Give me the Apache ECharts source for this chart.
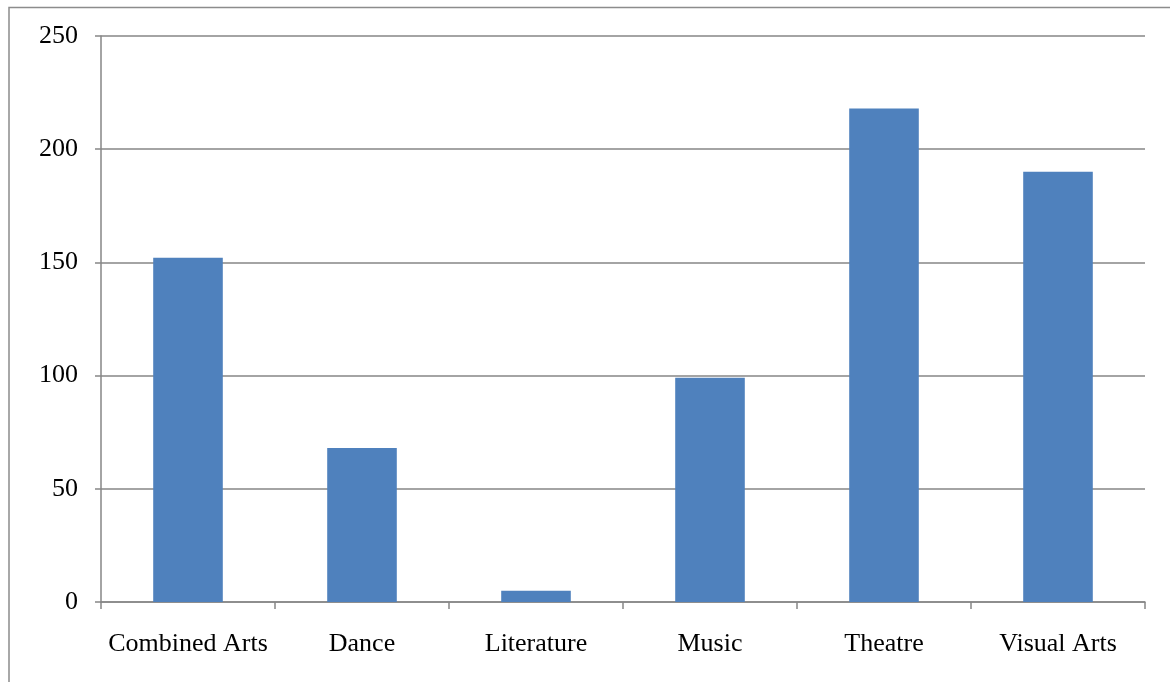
<!DOCTYPE html>
<html>
<head>
<meta charset="utf-8">
<script src="https://cdn.jsdelivr.net/npm/echarts@6/dist/echarts.min.js"></script>
<style>
  html, body { margin: 0; padding: 0; background: #fff; }
  #chart { width: 1170px; height: 682px; }
</style>
</head>
<body>
<div id="chart"></div>
<script>
// Funded projects by art form
const categories = ['Combined Arts', 'Dance', 'Literature', 'Music', 'Theatre', 'Visual Arts'];
const values = [152, 68, 5, 99, 218, 190];
const yTicks = { min: 0, max: 250, interval: 50 };

const axisGray = '#868686';
const font = '"Liberation Serif", "Times New Roman", serif';

const chart = echarts.init(document.getElementById('chart'));
chart.setOption({
  animation: false,
  graphic: [{
    type: 'rect',
    shape: { x: 9, y: 7.5, width: 1200, height: 700 },
    style: { fill: 'none', stroke: '#8c8c8c', lineWidth: 1.5 },
    silent: true
  }],
  grid: { left: 101, right: 25, top: 36, bottom: 80 },
  xAxis: {
    type: 'category',
    data: categories,
    axisLine: { lineStyle: { color: axisGray, width: 1.5 } },
    axisTick: { show: true, interval: 0, length: 7, lineStyle: { color: axisGray, width: 1.5 } },
    axisLabel: { interval: 0, color: '#000', fontFamily: font, fontSize: 26, margin: 29 }
  },
  yAxis: {
    type: 'value',
    min: yTicks.min, max: yTicks.max, interval: yTicks.interval,
    axisLine: { show: true, lineStyle: { color: axisGray, width: 1.5 } },
    axisTick: { show: true, length: 6, lineStyle: { color: axisGray, width: 1.5 } },
    splitLine: { lineStyle: { color: axisGray, width: 1.5 } },
    axisLabel: { color: '#000', fontFamily: font, fontSize: 26, margin: 23 }
  },
  series: [{
    type: 'bar',
    data: values,
    barCategoryGap: '60%',
    itemStyle: { color: '#4F81BD' }
  }]
});
</script>
</body>
</html>
